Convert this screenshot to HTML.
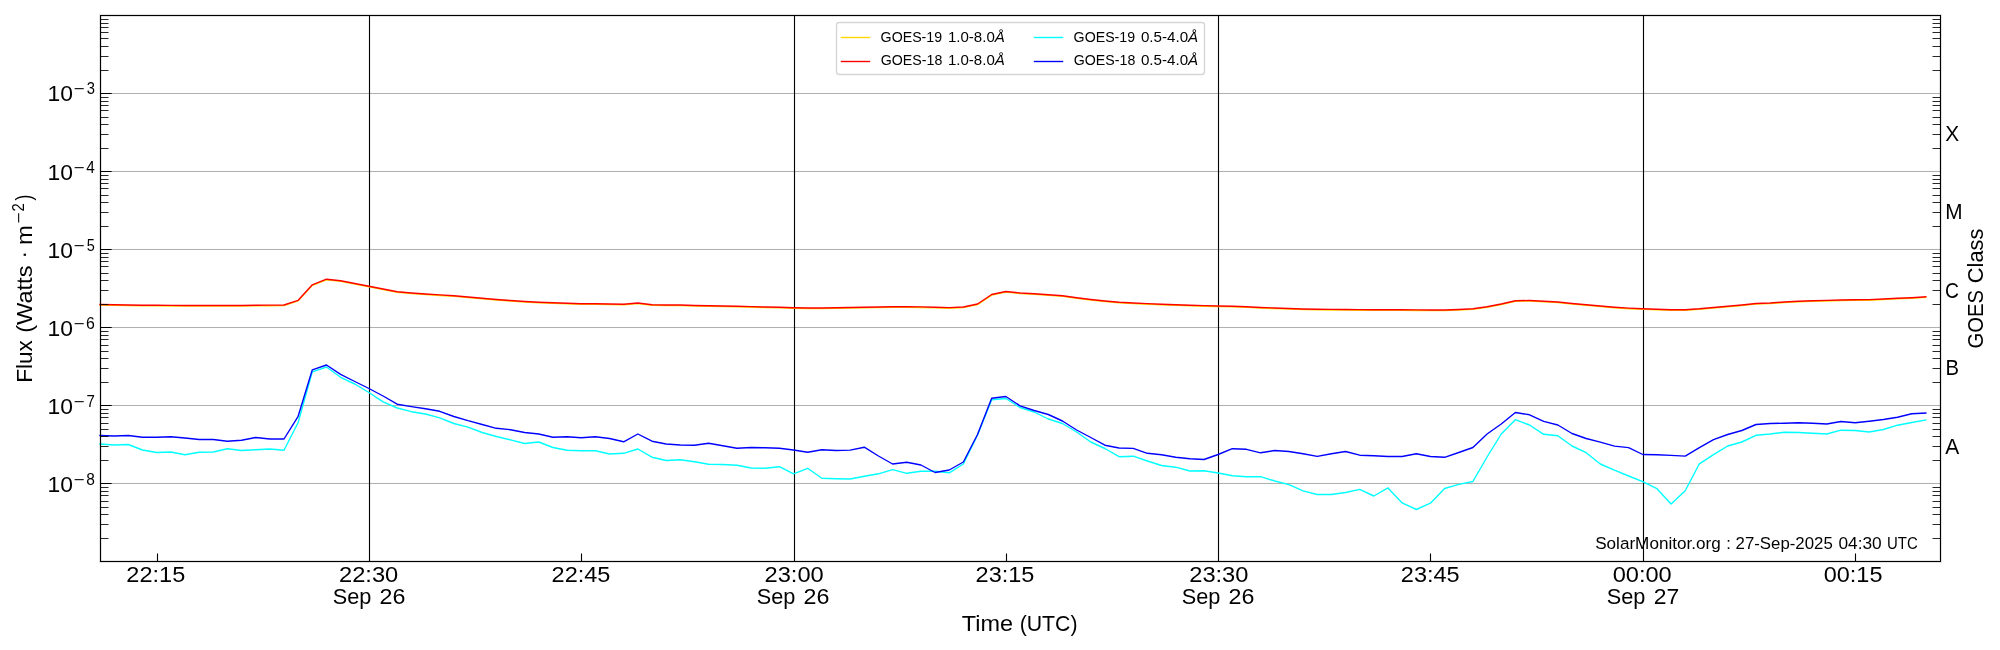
<!DOCTYPE html>
<html><head><meta charset="utf-8"><title>GOES X-ray Flux</title>
<style>
html,body{margin:0;padding:0;background:#fff;}
body{width:2000px;height:650px;overflow:hidden;}
svg{display:block;}
text{font-family:"Liberation Sans",sans-serif;fill:#000;}
</style></head><body>
<svg width="2000" height="650" viewBox="0 0 2000 650">
<rect width="2000" height="650" fill="#fff"/>
<g fill="#b0b0b0"><rect x="101" y="93" width="1839" height="1"/><rect x="101" y="171" width="1839" height="1"/><rect x="101" y="249" width="1839" height="1"/><rect x="101" y="327" width="1839" height="1"/><rect x="101" y="405" width="1839" height="1"/><rect x="101" y="483" width="1839" height="1"/></g>
<g fill="#b0b0b0" fill-opacity="0.03"><rect x="101" y="92" width="1839" height="1"/><rect x="101" y="94" width="1839" height="1"/><rect x="101" y="170" width="1839" height="1"/><rect x="101" y="172" width="1839" height="1"/><rect x="101" y="248" width="1839" height="1"/><rect x="101" y="250" width="1839" height="1"/><rect x="101" y="326" width="1839" height="1"/><rect x="101" y="328" width="1839" height="1"/><rect x="101" y="404" width="1839" height="1"/><rect x="101" y="406" width="1839" height="1"/><rect x="101" y="482" width="1839" height="1"/><rect x="101" y="484" width="1839" height="1"/></g>
<g fill="#000"><rect x="369" y="15" width="1" height="547"/><rect x="794" y="15" width="1" height="547"/><rect x="1218" y="15" width="1" height="547"/><rect x="1643" y="15" width="1" height="547"/></g>
<g fill="#000" fill-opacity="0.055"><rect x="368" y="16" width="1" height="545"/><rect x="370" y="16" width="1" height="545"/><rect x="793" y="16" width="1" height="545"/><rect x="795" y="16" width="1" height="545"/><rect x="1217" y="16" width="1" height="545"/><rect x="1219" y="16" width="1" height="545"/><rect x="1642" y="16" width="1" height="545"/><rect x="1644" y="16" width="1" height="545"/></g>
<polyline fill="none" stroke-width="1.39" stroke-linejoin="round" stroke-linecap="square" stroke="#ffd700" points="100.00,305.10 114.15,305.40 128.31,305.60 142.46,305.80 156.62,305.90 170.77,306.00 184.92,306.10 199.08,306.10 213.23,306.10 227.38,306.10 241.54,306.10 255.69,305.90 269.85,305.70 284.00,305.60 298.15,300.90 312.31,285.40 326.46,279.80 340.62,281.40 354.77,284.10 368.92,286.80 383.08,289.60 397.23,292.30 411.38,293.60 425.54,294.60 439.69,295.50 453.85,296.40 468.00,297.60 482.15,298.90 496.31,300.10 510.46,301.10 524.62,302.10 538.77,302.80 552.92,303.40 567.08,303.80 581.23,304.30 595.38,304.40 609.54,304.60 623.69,304.90 637.85,303.60 652.00,305.30 666.15,305.60 680.31,305.60 694.46,306.10 708.62,306.30 722.77,306.60 736.92,306.80 751.08,307.20 765.23,307.60 779.38,307.90 793.54,308.30 807.69,308.60 821.85,308.60 836.00,308.40 850.15,308.10 864.31,307.90 878.46,307.60 892.62,307.40 906.77,307.40 920.92,307.50 935.08,307.90 949.23,308.20 963.38,307.60 977.54,304.60 991.69,295.10 1005.85,292.10 1020.00,293.60 1034.15,294.30 1048.31,295.40 1062.46,296.40 1076.62,298.40 1090.77,300.10 1104.92,301.60 1119.08,302.80 1133.23,303.60 1147.38,304.20 1161.54,304.90 1175.69,305.40 1189.85,305.80 1204.00,306.20 1218.15,306.60 1232.31,306.90 1246.46,307.40 1260.62,308.10 1274.77,308.60 1288.92,309.10 1303.08,309.60 1317.23,309.90 1331.38,310.00 1345.54,310.10 1359.69,310.20 1373.85,310.30 1388.00,310.40 1402.15,310.40 1416.31,310.50 1430.46,310.60 1444.62,310.60 1458.77,310.10 1472.92,309.40 1487.08,307.30 1501.23,304.60 1515.38,301.30 1529.54,301.10 1543.69,301.80 1557.85,302.60 1572.00,304.10 1586.15,305.40 1600.31,306.60 1614.46,307.80 1628.62,308.70 1642.77,309.40 1656.92,309.90 1671.08,310.30 1685.23,310.30 1699.38,309.40 1713.54,308.10 1727.69,306.90 1741.85,305.60 1756.00,304.10 1770.15,303.60 1784.31,302.60 1798.46,301.90 1812.62,301.40 1826.77,301.00 1840.92,300.60 1855.08,300.30 1869.23,300.20 1883.38,299.60 1897.54,298.90 1911.69,298.30 1925.85,297.40"/>
<polyline fill="none" stroke-width="1.39" stroke-linejoin="round" stroke-linecap="square" stroke="#ff0000" points="100.00,304.50 114.15,304.80 128.31,305.00 142.46,305.20 156.62,305.30 170.77,305.40 184.92,305.50 199.08,305.50 213.23,305.50 227.38,305.50 241.54,305.50 255.69,305.30 269.85,305.10 284.00,305.00 298.15,300.30 312.31,284.80 326.46,279.20 340.62,280.80 354.77,283.50 368.92,286.20 383.08,289.00 397.23,291.70 411.38,293.00 425.54,294.00 439.69,294.90 453.85,295.80 468.00,297.00 482.15,298.30 496.31,299.50 510.46,300.50 524.62,301.50 538.77,302.20 552.92,302.80 567.08,303.20 581.23,303.70 595.38,303.80 609.54,304.00 623.69,304.30 637.85,303.00 652.00,304.70 666.15,305.00 680.31,305.00 694.46,305.50 708.62,305.70 722.77,306.00 736.92,306.20 751.08,306.60 765.23,307.00 779.38,307.30 793.54,307.70 807.69,308.00 821.85,308.00 836.00,307.80 850.15,307.50 864.31,307.30 878.46,307.00 892.62,306.80 906.77,306.80 920.92,306.90 935.08,307.30 949.23,307.60 963.38,307.00 977.54,304.00 991.69,294.50 1005.85,291.50 1020.00,293.00 1034.15,293.70 1048.31,294.80 1062.46,295.80 1076.62,297.80 1090.77,299.50 1104.92,301.00 1119.08,302.20 1133.23,303.00 1147.38,303.60 1161.54,304.30 1175.69,304.80 1189.85,305.20 1204.00,305.60 1218.15,306.00 1232.31,306.30 1246.46,306.80 1260.62,307.50 1274.77,308.00 1288.92,308.50 1303.08,309.00 1317.23,309.30 1331.38,309.40 1345.54,309.50 1359.69,309.60 1373.85,309.70 1388.00,309.80 1402.15,309.80 1416.31,309.90 1430.46,310.00 1444.62,310.00 1458.77,309.50 1472.92,308.80 1487.08,306.70 1501.23,304.00 1515.38,300.70 1529.54,300.50 1543.69,301.20 1557.85,302.00 1572.00,303.50 1586.15,304.80 1600.31,306.00 1614.46,307.20 1628.62,308.10 1642.77,308.80 1656.92,309.30 1671.08,309.70 1685.23,309.70 1699.38,308.80 1713.54,307.50 1727.69,306.30 1741.85,305.00 1756.00,303.50 1770.15,303.00 1784.31,302.00 1798.46,301.30 1812.62,300.80 1826.77,300.40 1840.92,300.00 1855.08,299.70 1869.23,299.60 1883.38,299.00 1897.54,298.30 1911.69,297.70 1925.85,296.80"/>
<polyline fill="none" stroke-width="1.39" stroke-linejoin="round" stroke-linecap="square" stroke="#00ffff" points="100.00,444.00 114.15,445.00 128.31,444.50 142.46,450.00 156.62,452.50 170.77,452.00 184.92,454.80 199.08,452.20 213.23,452.00 227.38,448.80 241.54,450.50 255.69,449.70 269.85,449.00 284.00,450.30 298.15,422.50 312.31,371.80 326.46,367.00 340.62,377.30 354.77,384.00 368.92,392.50 383.08,401.80 397.23,408.00 411.38,411.70 425.54,414.00 439.69,417.80 453.85,423.50 468.00,427.20 482.15,432.50 496.31,436.50 510.46,439.80 524.62,443.50 538.77,442.00 552.92,447.50 567.08,450.30 581.23,450.80 595.38,450.80 609.54,454.00 623.69,453.30 637.85,449.00 652.00,457.20 666.15,460.50 680.31,459.80 694.46,461.80 708.62,464.20 722.77,464.50 736.92,465.20 751.08,468.00 765.23,468.20 779.38,466.70 793.54,473.80 807.69,468.30 821.85,478.20 836.00,478.70 850.15,479.00 864.31,476.20 878.46,473.80 892.62,469.70 906.77,473.30 920.92,471.20 935.08,471.30 949.23,472.80 963.38,464.00 977.54,435.00 991.69,399.80 1005.85,398.50 1020.00,407.50 1034.15,412.00 1048.31,419.00 1062.46,423.50 1076.62,432.00 1090.77,442.00 1104.92,448.50 1119.08,456.70 1133.23,456.20 1147.38,461.00 1161.54,465.50 1175.69,467.20 1189.85,471.00 1204.00,470.80 1218.15,473.00 1232.31,475.80 1246.46,476.70 1260.62,476.70 1274.77,481.00 1288.92,484.70 1303.08,490.80 1317.23,494.50 1331.38,494.50 1345.54,492.50 1359.69,489.40 1373.85,496.00 1388.00,487.90 1402.15,502.90 1416.31,509.50 1430.46,503.20 1444.62,488.50 1458.77,484.40 1472.92,481.50 1487.08,457.00 1501.23,434.00 1515.38,419.70 1529.54,425.00 1543.69,434.30 1557.85,435.80 1572.00,446.00 1586.15,452.70 1600.31,464.00 1614.46,470.20 1628.62,476.00 1642.77,481.70 1656.92,488.70 1671.08,504.00 1685.23,490.70 1699.38,463.80 1713.54,454.60 1727.69,446.00 1741.85,442.00 1756.00,435.30 1770.15,434.00 1784.31,432.20 1798.46,432.50 1812.62,433.20 1826.77,434.00 1840.92,430.20 1855.08,430.50 1869.23,432.00 1883.38,429.50 1897.54,425.20 1911.69,422.50 1925.85,420.00"/>
<polyline fill="none" stroke-width="1.39" stroke-linejoin="round" stroke-linecap="square" stroke="#0000ff" points="100.00,435.50 114.15,436.00 128.31,435.50 142.46,437.20 156.62,437.20 170.77,436.80 184.92,438.00 199.08,439.50 213.23,439.50 227.38,441.20 241.54,440.20 255.69,437.50 269.85,439.00 284.00,439.00 298.15,416.30 312.31,369.80 326.46,365.00 340.62,374.30 354.77,381.50 368.92,388.50 383.08,396.00 397.23,404.20 411.38,406.60 425.54,408.70 439.69,411.30 453.85,416.50 468.00,420.70 482.15,424.50 496.31,428.30 510.46,429.70 524.62,432.50 538.77,434.00 552.92,437.20 567.08,436.70 581.23,437.80 595.38,436.70 609.54,438.50 623.69,441.80 637.85,434.00 652.00,441.20 666.15,444.00 680.31,445.00 694.46,445.30 708.62,443.20 722.77,445.80 736.92,448.20 751.08,447.50 765.23,447.80 779.38,448.20 793.54,450.00 807.69,452.20 821.85,449.80 836.00,450.50 850.15,450.10 864.31,447.20 878.46,456.00 892.62,464.00 906.77,462.20 920.92,465.00 935.08,472.50 949.23,470.00 963.38,462.00 977.54,434.50 991.69,398.30 1005.85,396.50 1020.00,405.80 1034.15,410.50 1048.31,414.50 1062.46,421.00 1076.62,430.00 1090.77,437.50 1104.92,445.20 1119.08,448.00 1133.23,448.40 1147.38,453.30 1161.54,454.80 1175.69,457.20 1189.85,458.70 1204.00,459.50 1218.15,454.50 1232.31,448.70 1246.46,449.30 1260.62,452.80 1274.77,450.50 1288.92,451.50 1303.08,453.80 1317.23,456.40 1331.38,453.80 1345.54,451.50 1359.69,455.20 1373.85,455.80 1388.00,456.50 1402.15,456.50 1416.31,453.80 1430.46,456.50 1444.62,457.30 1458.77,452.50 1472.92,447.50 1487.08,434.00 1501.23,424.00 1515.38,412.50 1529.54,414.80 1543.69,421.30 1557.85,425.00 1572.00,433.50 1586.15,438.50 1600.31,442.10 1614.46,446.10 1628.62,447.60 1642.77,454.50 1656.92,454.80 1671.08,455.40 1685.23,456.10 1699.38,447.70 1713.54,439.60 1727.69,434.50 1741.85,430.50 1756.00,424.50 1770.15,423.50 1784.31,423.20 1798.46,422.80 1812.62,423.20 1826.77,424.00 1840.92,421.50 1855.08,422.80 1869.23,421.20 1883.38,419.50 1897.54,417.20 1911.69,413.80 1925.85,413.00"/>
<g fill="#000"><rect x="101" y="93" width="10" height="1"/><rect x="101" y="171" width="10" height="1"/><rect x="101" y="249" width="10" height="1"/><rect x="101" y="327" width="10" height="1"/><rect x="101" y="405" width="10" height="1"/><rect x="101" y="483" width="10" height="1"/></g>
<g fill="#000" fill-opacity="0.66"><rect x="111" y="93" width="1" height="1"/><rect x="111" y="171" width="1" height="1"/><rect x="111" y="249" width="1" height="1"/><rect x="111" y="327" width="1" height="1"/><rect x="111" y="405" width="1" height="1"/><rect x="111" y="483" width="1" height="1"/></g>
<g fill="#000" fill-opacity="0.84"><rect x="101" y="538" width="7" height="1"/><rect x="1933" y="538" width="7" height="1"/><rect x="101" y="524" width="7" height="1"/><rect x="1933" y="524" width="7" height="1"/><rect x="101" y="514" width="7" height="1"/><rect x="1933" y="514" width="7" height="1"/><rect x="101" y="507" width="7" height="1"/><rect x="1933" y="507" width="7" height="1"/><rect x="101" y="501" width="7" height="1"/><rect x="1933" y="501" width="7" height="1"/><rect x="101" y="495" width="7" height="1"/><rect x="1933" y="495" width="7" height="1"/><rect x="101" y="491" width="7" height="1"/><rect x="1933" y="491" width="7" height="1"/><rect x="101" y="487" width="7" height="1"/><rect x="1933" y="487" width="7" height="1"/><rect x="101" y="460" width="7" height="1"/><rect x="1933" y="460" width="7" height="1"/><rect x="101" y="446" width="7" height="1"/><rect x="1933" y="446" width="7" height="1"/><rect x="101" y="436" width="7" height="1"/><rect x="1933" y="436" width="7" height="1"/><rect x="101" y="429" width="7" height="1"/><rect x="1933" y="429" width="7" height="1"/><rect x="101" y="423" width="7" height="1"/><rect x="1933" y="423" width="7" height="1"/><rect x="101" y="417" width="7" height="1"/><rect x="1933" y="417" width="7" height="1"/><rect x="101" y="413" width="7" height="1"/><rect x="1933" y="413" width="7" height="1"/><rect x="101" y="409" width="7" height="1"/><rect x="1933" y="409" width="7" height="1"/><rect x="101" y="382" width="7" height="1"/><rect x="1933" y="382" width="7" height="1"/><rect x="101" y="368" width="7" height="1"/><rect x="1933" y="368" width="7" height="1"/><rect x="101" y="358" width="7" height="1"/><rect x="1933" y="358" width="7" height="1"/><rect x="101" y="351" width="7" height="1"/><rect x="1933" y="351" width="7" height="1"/><rect x="101" y="345" width="7" height="1"/><rect x="1933" y="345" width="7" height="1"/><rect x="101" y="339" width="7" height="1"/><rect x="1933" y="339" width="7" height="1"/><rect x="101" y="335" width="7" height="1"/><rect x="1933" y="335" width="7" height="1"/><rect x="101" y="331" width="7" height="1"/><rect x="1933" y="331" width="7" height="1"/><rect x="101" y="304" width="7" height="1"/><rect x="1933" y="304" width="7" height="1"/><rect x="101" y="290" width="7" height="1"/><rect x="1933" y="290" width="7" height="1"/><rect x="101" y="280" width="7" height="1"/><rect x="1933" y="280" width="7" height="1"/><rect x="101" y="273" width="7" height="1"/><rect x="1933" y="273" width="7" height="1"/><rect x="101" y="266" width="7" height="1"/><rect x="1933" y="266" width="7" height="1"/><rect x="101" y="261" width="7" height="1"/><rect x="1933" y="261" width="7" height="1"/><rect x="101" y="257" width="7" height="1"/><rect x="1933" y="257" width="7" height="1"/><rect x="101" y="253" width="7" height="1"/><rect x="1933" y="253" width="7" height="1"/><rect x="101" y="226" width="7" height="1"/><rect x="1933" y="226" width="7" height="1"/><rect x="101" y="212" width="7" height="1"/><rect x="1933" y="212" width="7" height="1"/><rect x="101" y="202" width="7" height="1"/><rect x="1933" y="202" width="7" height="1"/><rect x="101" y="195" width="7" height="1"/><rect x="1933" y="195" width="7" height="1"/><rect x="101" y="188" width="7" height="1"/><rect x="1933" y="188" width="7" height="1"/><rect x="101" y="183" width="7" height="1"/><rect x="1933" y="183" width="7" height="1"/><rect x="101" y="179" width="7" height="1"/><rect x="1933" y="179" width="7" height="1"/><rect x="101" y="175" width="7" height="1"/><rect x="1933" y="175" width="7" height="1"/><rect x="101" y="148" width="7" height="1"/><rect x="1933" y="148" width="7" height="1"/><rect x="101" y="134" width="7" height="1"/><rect x="1933" y="134" width="7" height="1"/><rect x="101" y="124" width="7" height="1"/><rect x="1933" y="124" width="7" height="1"/><rect x="101" y="117" width="7" height="1"/><rect x="1933" y="117" width="7" height="1"/><rect x="101" y="110" width="7" height="1"/><rect x="1933" y="110" width="7" height="1"/><rect x="101" y="105" width="7" height="1"/><rect x="1933" y="105" width="7" height="1"/><rect x="101" y="101" width="7" height="1"/><rect x="1933" y="101" width="7" height="1"/><rect x="101" y="97" width="7" height="1"/><rect x="1933" y="97" width="7" height="1"/><rect x="101" y="70" width="7" height="1"/><rect x="1933" y="70" width="7" height="1"/><rect x="101" y="56" width="7" height="1"/><rect x="1933" y="56" width="7" height="1"/><rect x="101" y="46" width="7" height="1"/><rect x="1933" y="46" width="7" height="1"/><rect x="101" y="38" width="7" height="1"/><rect x="1933" y="38" width="7" height="1"/><rect x="101" y="32" width="7" height="1"/><rect x="1933" y="32" width="7" height="1"/><rect x="101" y="27" width="7" height="1"/><rect x="1933" y="27" width="7" height="1"/><rect x="101" y="23" width="7" height="1"/><rect x="1933" y="23" width="7" height="1"/><rect x="101" y="19" width="7" height="1"/><rect x="1933" y="19" width="7" height="1"/></g>
<g fill="#000" fill-opacity="0.42"><rect x="108" y="538" width="1" height="1"/><rect x="1932" y="538" width="1" height="1"/><rect x="108" y="524" width="1" height="1"/><rect x="1932" y="524" width="1" height="1"/><rect x="108" y="514" width="1" height="1"/><rect x="1932" y="514" width="1" height="1"/><rect x="108" y="507" width="1" height="1"/><rect x="1932" y="507" width="1" height="1"/><rect x="108" y="501" width="1" height="1"/><rect x="1932" y="501" width="1" height="1"/><rect x="108" y="495" width="1" height="1"/><rect x="1932" y="495" width="1" height="1"/><rect x="108" y="491" width="1" height="1"/><rect x="1932" y="491" width="1" height="1"/><rect x="108" y="487" width="1" height="1"/><rect x="1932" y="487" width="1" height="1"/><rect x="108" y="460" width="1" height="1"/><rect x="1932" y="460" width="1" height="1"/><rect x="108" y="446" width="1" height="1"/><rect x="1932" y="446" width="1" height="1"/><rect x="108" y="436" width="1" height="1"/><rect x="1932" y="436" width="1" height="1"/><rect x="108" y="429" width="1" height="1"/><rect x="1932" y="429" width="1" height="1"/><rect x="108" y="423" width="1" height="1"/><rect x="1932" y="423" width="1" height="1"/><rect x="108" y="417" width="1" height="1"/><rect x="1932" y="417" width="1" height="1"/><rect x="108" y="413" width="1" height="1"/><rect x="1932" y="413" width="1" height="1"/><rect x="108" y="409" width="1" height="1"/><rect x="1932" y="409" width="1" height="1"/><rect x="108" y="382" width="1" height="1"/><rect x="1932" y="382" width="1" height="1"/><rect x="108" y="368" width="1" height="1"/><rect x="1932" y="368" width="1" height="1"/><rect x="108" y="358" width="1" height="1"/><rect x="1932" y="358" width="1" height="1"/><rect x="108" y="351" width="1" height="1"/><rect x="1932" y="351" width="1" height="1"/><rect x="108" y="345" width="1" height="1"/><rect x="1932" y="345" width="1" height="1"/><rect x="108" y="339" width="1" height="1"/><rect x="1932" y="339" width="1" height="1"/><rect x="108" y="335" width="1" height="1"/><rect x="1932" y="335" width="1" height="1"/><rect x="108" y="331" width="1" height="1"/><rect x="1932" y="331" width="1" height="1"/><rect x="108" y="304" width="1" height="1"/><rect x="1932" y="304" width="1" height="1"/><rect x="108" y="290" width="1" height="1"/><rect x="1932" y="290" width="1" height="1"/><rect x="108" y="280" width="1" height="1"/><rect x="1932" y="280" width="1" height="1"/><rect x="108" y="273" width="1" height="1"/><rect x="1932" y="273" width="1" height="1"/><rect x="108" y="266" width="1" height="1"/><rect x="1932" y="266" width="1" height="1"/><rect x="108" y="261" width="1" height="1"/><rect x="1932" y="261" width="1" height="1"/><rect x="108" y="257" width="1" height="1"/><rect x="1932" y="257" width="1" height="1"/><rect x="108" y="253" width="1" height="1"/><rect x="1932" y="253" width="1" height="1"/><rect x="108" y="226" width="1" height="1"/><rect x="1932" y="226" width="1" height="1"/><rect x="108" y="212" width="1" height="1"/><rect x="1932" y="212" width="1" height="1"/><rect x="108" y="202" width="1" height="1"/><rect x="1932" y="202" width="1" height="1"/><rect x="108" y="195" width="1" height="1"/><rect x="1932" y="195" width="1" height="1"/><rect x="108" y="188" width="1" height="1"/><rect x="1932" y="188" width="1" height="1"/><rect x="108" y="183" width="1" height="1"/><rect x="1932" y="183" width="1" height="1"/><rect x="108" y="179" width="1" height="1"/><rect x="1932" y="179" width="1" height="1"/><rect x="108" y="175" width="1" height="1"/><rect x="1932" y="175" width="1" height="1"/><rect x="108" y="148" width="1" height="1"/><rect x="1932" y="148" width="1" height="1"/><rect x="108" y="134" width="1" height="1"/><rect x="1932" y="134" width="1" height="1"/><rect x="108" y="124" width="1" height="1"/><rect x="1932" y="124" width="1" height="1"/><rect x="108" y="117" width="1" height="1"/><rect x="1932" y="117" width="1" height="1"/><rect x="108" y="110" width="1" height="1"/><rect x="1932" y="110" width="1" height="1"/><rect x="108" y="105" width="1" height="1"/><rect x="1932" y="105" width="1" height="1"/><rect x="108" y="101" width="1" height="1"/><rect x="1932" y="101" width="1" height="1"/><rect x="108" y="97" width="1" height="1"/><rect x="1932" y="97" width="1" height="1"/><rect x="108" y="70" width="1" height="1"/><rect x="1932" y="70" width="1" height="1"/><rect x="108" y="56" width="1" height="1"/><rect x="1932" y="56" width="1" height="1"/><rect x="108" y="46" width="1" height="1"/><rect x="1932" y="46" width="1" height="1"/><rect x="108" y="38" width="1" height="1"/><rect x="1932" y="38" width="1" height="1"/><rect x="108" y="32" width="1" height="1"/><rect x="1932" y="32" width="1" height="1"/><rect x="108" y="27" width="1" height="1"/><rect x="1932" y="27" width="1" height="1"/><rect x="108" y="23" width="1" height="1"/><rect x="1932" y="23" width="1" height="1"/><rect x="108" y="19" width="1" height="1"/><rect x="1932" y="19" width="1" height="1"/></g>
<g fill="#000"><rect x="157" y="554" width="1" height="7"/><rect x="581" y="554" width="1" height="7"/><rect x="1006" y="554" width="1" height="7"/><rect x="1430" y="554" width="1" height="7"/><rect x="1855" y="554" width="1" height="7"/></g>
<g fill="#000" fill-opacity="0.5"><rect x="157" y="553" width="1" height="1"/><rect x="581" y="553" width="1" height="1"/><rect x="1006" y="553" width="1" height="1"/><rect x="1430" y="553" width="1" height="1"/><rect x="1855" y="553" width="1" height="1"/></g>
<g fill="#000" fill-opacity="0.055"><rect x="156" y="554" width="1" height="7"/><rect x="158" y="554" width="1" height="7"/><rect x="580" y="554" width="1" height="7"/><rect x="582" y="554" width="1" height="7"/><rect x="1005" y="554" width="1" height="7"/><rect x="1007" y="554" width="1" height="7"/><rect x="1429" y="554" width="1" height="7"/><rect x="1431" y="554" width="1" height="7"/><rect x="1854" y="554" width="1" height="7"/><rect x="1856" y="554" width="1" height="7"/></g>
<g fill="#000"><rect x="100" y="15" width="1" height="547"/><rect x="1940" y="15" width="1" height="547"/><rect x="100" y="15" width="841" height="1"/><rect x="941" y="15" width="999" height="1"/><rect x="100" y="561" width="1841" height="1"/></g>
<g fill="#000" fill-opacity="0.11"><rect x="99" y="14" width="1" height="549"/><rect x="101" y="16" width="1" height="545"/><rect x="1939" y="16" width="1" height="545"/><rect x="1941" y="14" width="1" height="549"/><rect x="100" y="14" width="1841" height="1"/><rect x="101" y="16" width="1838" height="1"/><rect x="101" y="560" width="1838" height="1"/><rect x="100" y="562" width="1841" height="1"/></g>
<rect x="836.5" y="22.5" width="368" height="52" rx="2.8" ry="2.8" fill="#fff" fill-opacity="0.8" stroke="#ccc" stroke-opacity="0.8" stroke-width="1.39"/>
<line x1="841.5" y1="37.5" x2="869.5" y2="37.5" stroke="#ffd700" stroke-width="1.39" stroke-linecap="square"/><line x1="841.5" y1="61.5" x2="869.5" y2="61.5" stroke="#ff0000" stroke-width="1.39" stroke-linecap="square"/><line x1="1034.5" y1="37.5" x2="1062.5" y2="37.5" stroke="#00ffff" stroke-width="1.39" stroke-linecap="square"/><line x1="1034.5" y1="61.5" x2="1062.5" y2="61.5" stroke="#0000ff" stroke-width="1.39" stroke-linecap="square"/>
<g opacity="0.999">
<text transform="translate(126.37 581.59) scale(1.0246 1)" font-size="22.96">22:15</text>
<text transform="translate(338.98 581.59) scale(1.0312 1)" font-size="22.96">22:30</text>
<text transform="translate(332.78 604.44) scale(0.9462 1)" font-size="22.96">Sep</text>
<text transform="translate(379.51 604.44) scale(1.0128 1)" font-size="22.96">26</text>
<text transform="translate(551.55 581.59) scale(1.0246 1)" font-size="22.96">22:45</text>
<text transform="translate(764.52 581.59) scale(1.0312 1)" font-size="22.96">23:00</text>
<text transform="translate(756.78 604.44) scale(0.9462 1)" font-size="22.96">Sep</text>
<text transform="translate(803.51 604.44) scale(1.0128 1)" font-size="22.96">26</text>
<text transform="translate(975.59 581.59) scale(1.0246 1)" font-size="22.96">23:15</text>
<text transform="translate(1189.22 581.59) scale(1.0312 1)" font-size="22.96">23:30</text>
<text transform="translate(1181.78 604.44) scale(0.9462 1)" font-size="22.96">Sep</text>
<text transform="translate(1228.51 604.44) scale(1.0128 1)" font-size="22.96">26</text>
<text transform="translate(1400.82 581.59) scale(1.0246 1)" font-size="22.96">23:45</text>
<text transform="translate(1612.64 581.59) scale(1.0292 1)" font-size="22.96">00:00</text>
<text transform="translate(1606.78 604.44) scale(0.9462 1)" font-size="22.96">Sep</text>
<text transform="translate(1653.73 604.44) scale(0.9990 1)" font-size="22.96">27</text>
<text transform="translate(1823.71 581.59) scale(1.0226 1)" font-size="22.96">00:15</text>
<text transform="translate(961.73 630.69) scale(1.0222 1)" font-size="22.96">Time</text>
<text transform="translate(1019.65 630.69) scale(0.9257 1)" font-size="22.96">(UTC)</text>
<text transform="translate(47.59 101.36) scale(0.9977 1)" font-size="22.96">10</text>
<text transform="translate(73.43 94.37) scale(1.2160 1)" font-size="15.45">−</text>
<text transform="translate(86.65 94.24) scale(0.8686 1)" font-size="17.00">3</text>
<text transform="translate(47.59 180.36) scale(0.9977 1)" font-size="22.96">10</text>
<text transform="translate(73.39 173.36) scale(1.2160 1)" font-size="15.45">−</text>
<text transform="translate(86.37 173.05) scale(0.9045 1)" font-size="17.00">4</text>
<text transform="translate(47.59 258.36) scale(0.9977 1)" font-size="22.96">10</text>
<text transform="translate(73.43 251.37) scale(1.2160 1)" font-size="15.45">−</text>
<text transform="translate(86.85 250.78) scale(0.8535 1)" font-size="17.00">5</text>
<text transform="translate(47.59 336.36) scale(0.9977 1)" font-size="22.96">10</text>
<text transform="translate(73.43 329.37) scale(1.2160 1)" font-size="15.45">−</text>
<text transform="translate(86.07 329.03) scale(0.9360 1)" font-size="17.00">6</text>
<text transform="translate(47.59 414.36) scale(0.9977 1)" font-size="22.96">10</text>
<text transform="translate(73.43 407.37) scale(1.2160 1)" font-size="15.45">−</text>
<text transform="translate(86.59 407.24) scale(0.8847 1)" font-size="17.00">7</text>
<text transform="translate(47.59 492.36) scale(0.9977 1)" font-size="22.96">10</text>
<text transform="translate(73.43 485.37) scale(1.2160 1)" font-size="15.45">−</text>
<text transform="translate(86.32 485.46) scale(0.9142 1)" font-size="17.00">8</text>
<text transform="translate(1945.32 141.27) scale(0.9082 1)" font-size="22.96">X</text>
<text transform="translate(1945.24 218.85) scale(0.9048 1)" font-size="22.96">M</text>
<text transform="translate(1944.94 297.66) scale(0.8424 1)" font-size="22.96">C</text>
<text transform="translate(1945.46 375.40) scale(0.8817 1)" font-size="22.96">B</text>
<text transform="translate(1945.18 453.56) scale(0.9141 1)" font-size="22.96">A</text>
<text transform="translate(1595.15 548.88) scale(1.0278 1)" font-size="16.67">SolarMonitor.org</text>
<text transform="translate(1726.16 548.88) scale(0.9915 1)" font-size="16.67">:</text>
<text transform="translate(1735.56 548.88) scale(1.0086 1)" font-size="16.67">27-Sep-2025</text>
<text transform="translate(1838.43 548.88) scale(1.0392 1)" font-size="16.67">04:30</text>
<text transform="translate(1887.06 548.88) scale(0.8974 1)" font-size="16.67">UTC</text>
<text transform="translate(880.61 42.01) scale(1.0164 1)" font-size="13.98">GOES-19</text>
<text transform="translate(947.90 42.01) scale(1.0777 1)" font-size="13.98">1.0-8.0<tspan font-style="italic">Å</tspan></text>
<text transform="translate(880.78 65.29) scale(1.0160 1)" font-size="13.98">GOES-18</text>
<text transform="translate(947.90 65.29) scale(1.0777 1)" font-size="13.98">1.0-8.0<tspan font-style="italic">Å</tspan></text>
<text transform="translate(1073.61 42.01) scale(1.0164 1)" font-size="13.98">GOES-19</text>
<text transform="translate(1140.88 42.01) scale(1.0862 1)" font-size="13.98">0.5-4.0<tspan font-style="italic">Å</tspan></text>
<text transform="translate(1073.78 65.29) scale(1.0160 1)" font-size="13.98">GOES-18</text>
<text transform="translate(1140.88 65.29) scale(1.0862 1)" font-size="13.98">0.5-4.0<tspan font-style="italic">Å</tspan></text>
<text transform="translate(1982.55 348.49) rotate(-90) scale(0.8826 1)" font-size="22.96">GOES</text>
<text transform="translate(1982.55 283.18) rotate(-90) scale(0.9497 1)" font-size="22.96">Class</text>
<text transform="translate(31.70 382.78) rotate(-90) scale(0.9839 1)" font-size="22.96">Flux</text>
<text transform="translate(31.70 332.79) rotate(-90) scale(1.0283 1)" font-size="22.96">(Watts</text>
<text transform="translate(30.67 258.42) rotate(-90) scale(0.9819 1)" font-size="22.96">·</text>
<text transform="translate(31.70 244.91) rotate(-90) scale(1.0339 1)" font-size="22.96">m</text>
<text transform="translate(24.47 223.44) rotate(-90) scale(1.2160 1)" font-size="15.45">−</text>
<text transform="translate(24.07 211.41) rotate(-90) scale(0.8718 1)" font-size="17.00">2</text>
<text transform="translate(30.77 200.61) rotate(-90) scale(0.7671 1)" font-size="22.96">)</text>
</g>
</svg>
</body></html>
